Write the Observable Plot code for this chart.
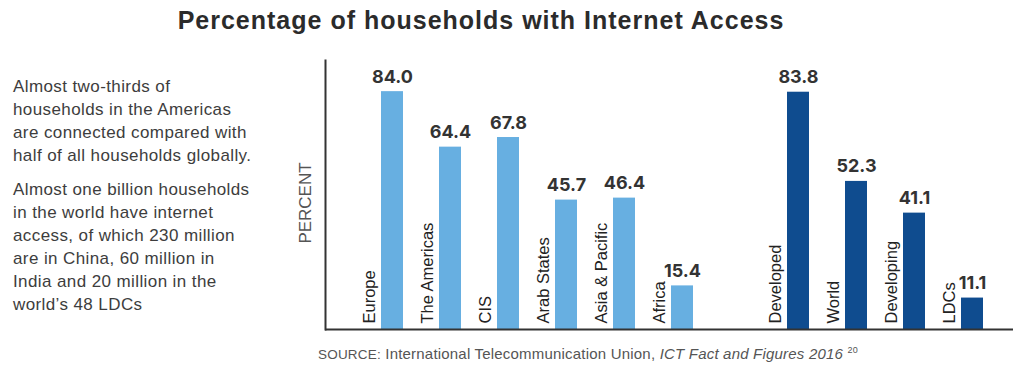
<!DOCTYPE html>
<html>
<head>
<meta charset="utf-8">
<script src="https://cdn.jsdelivr.net/npm/d3@7"></script>
<script src="https://cdn.jsdelivr.net/npm/@observablehq/plot@0.6"></script>
<style>
  body { margin: 0; background: #fff; }
  #wrap { position: relative; width: 1024px; height: 373px; overflow: hidden; }
  #title { position: absolute; left: 0; top: 0; width: 962px; height: 40px; line-height: 40px; text-align: center;
           font-family: "Liberation Sans", Arial, sans-serif; font-weight: bold; font-size: 25px; letter-spacing: 1px; color: #2b2b2b; }
  #note { position: absolute; left: 13px; top: 75px; width: 290px; font-family: "Liberation Sans", Arial, sans-serif;
          font-size: 17px; line-height: 23px; letter-spacing: 0.4px; color: #3d3d3d; }
  #note p { margin: 0 0 11px 0; }
  #chart { position: absolute; left: 0; top: 40px; }
  #source { position: absolute; left: 318px; top: 345px; font-family: "Liberation Sans", Arial, sans-serif;
            font-size: 15px; letter-spacing: 0.2px; color: #555; white-space: nowrap; }
  #source .cap { font-size: 13.5px; }
  #source sup { font-size: 9px; vertical-align: 6px; }
</style>
</head>
<body>
<div id="wrap">
  <div id="title">Percentage of households with Internet Access</div>
  <div id="note">
    <p>Almost two-thirds of<br>households in the Americas<br>are connected compared with<br>half of all households globally.</p>
    <p>Almost one billion households<br>in the world have internet<br>access, of which 230 million<br>are in China, 60 million in<br>India and 20 million in the<br>world’s 48 LDCs</p>
  </div>
  <div id="chart"></div>
  <div id="source"><span class="cap">SOURCE:</span> International Telecommunication Union, <i>ICT Fact and Figures 2016</i> <sup>20</sup></div>
</div>
<script>
const categories = ["Europe", "The Americas", "CIS", "Arab States", "Asia & Pacific", "Africa",
                    "Developed", "World", "Developing", "LDCs"];
const values = [84.0, 64.4, 67.8, 45.7, 46.4, 15.4, 83.8, 52.3, 41.1, 11.1];
const groups = ["Region", "Region", "Region", "Region", "Region", "Region",
                "Development", "Development", "Development", "Development"];
const groupColors = ["#67afe1", "#0f4c8f"];
const yLabel = "PERCENT";

const data = categories.map((c, i) => ({category: c, value: values[i], group: groups[i]}));
const xDomain = [...categories.slice(0, 6), " ", ...categories.slice(6)];

const chart = Plot.plot({
  width: 1024,
  height: 333,
  marginLeft: 325,
  marginRight: 11,
  marginTop: 20,
  marginBottom: 44,
  style: {fontFamily: "'Liberation Sans', Arial, sans-serif", background: "transparent"},
  x: {domain: xDomain, range: [381, 983], paddingInner: 36 / 58, paddingOuter: 0, round: false, axis: null},
  y: {domain: [0, 95], axis: null},
  color: {domain: ["Region", "Development"], range: groupColors},
  marks: [
    Plot.barY(data, {x: "category", y: "value", fill: "group"}),
    Plot.text(data, {x: "category", y: "value", text: d => d.value.toFixed(1), lineAnchor: "bottom",
      dy: -9, fontSize: 18, fontWeight: "bold", fill: "#333", fontFamily: "Inter, sans-serif"}),
    Plot.text(data, {x: "category", y: 0, text: "category", rotate: -90, textAnchor: "start",
      dx: -23, dy: -6, fontSize: 16.5, fill: "#222"}),
    Plot.ruleY([0], {stroke: "#333", strokeWidth: 2}),
    Plot.frame({anchor: "left", stroke: "#333", strokeWidth: 2}),
    Plot.text([yLabel], {text: d => d, frameAnchor: "left", textAnchor: "middle", rotate: -90, dx: -20, dy: 8,
      fontSize: 17, fill: "#555"})
  ]
});
document.getElementById("chart").appendChild(chart);
</script>
</body>
</html>
